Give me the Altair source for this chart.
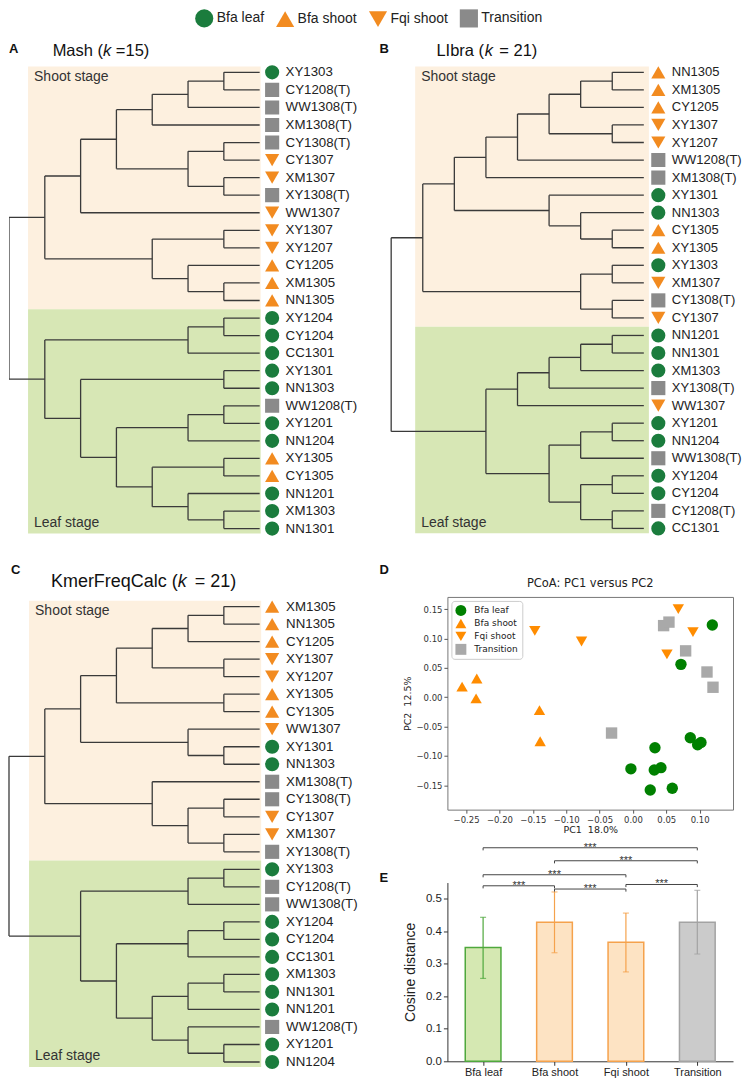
import altair as alt
import pandas as pd

# ---------------- categories & styles ----------------
GROUPS = ["Bfa leaf", "Bfa shoot", "Fqi shoot", "Transition"]
SHAPES = ["circle", "triangle-up", "triangle-down", "square"]
TREE_COLORS = ["#1b7c3d", "#f28b20", "#f28b20", "#8a8a8a"]
PCOA_COLORS = ["#008000", "#ff8c00", "#ff8c00", "#a9a9a9"]
BAR_FILL = ["#d5e8b2", "#fde3c3", "#fde3c3", "#cbcbcb"]
BAR_LINE = ["#4fa83d", "#f5a24c", "#f5a24c", "#a3a3a3"]

# ---------------- samples ----------------
BFA_LEAF = ["XY1303", "XY1204", "CY1204", "CC1301", "XY1301", "NN1303",
            "XY1201", "NN1204", "NN1201", "XM1303", "NN1301"]
BFA_SHOOT = ["CY1205", "XM1305", "NN1305", "XY1305", "CY1305"]
FQI_SHOOT = ["CY1307", "XM1307", "WW1307", "XY1307", "XY1207"]
TRANSITION = ["CY1208(T)", "WW1308(T)", "XM1308(T)", "CY1308(T)", "XY1308(T)", "WW1208(T)"]

# ---------------- tree topologies (shoot clade, leaf clade) ----------------
TREE_A_SHOOT = "((((((XY1303,CY1208_T),WW1308_T),XM1308_T),((CY1308_T,CY1307),(XM1307,XY1308_T))),WW1307),((XY1307,XY1207),(CY1205,(XM1305,NN1305))))"
TREE_A_LEAF = "(((XY1204,CY1204),CC1301),((XY1301,NN1303),(((WW1208_T,XY1201),NN1204),((XY1305,CY1305),(NN1201,(XM1303,NN1301))))))"
TREE_B_SHOOT = "(((((((NN1305,XM1305),CY1205),(XY1307,XY1207)),WW1208_T),XM1308_T),(XY1301,(NN1303,(CY1305,XY1305)))),((XY1303,XM1307),(CY1308_T,CY1307)))"
TREE_B_LEAF = "(((((NN1201,NN1301),XM1303),XY1308_T),WW1307),(((XY1201,NN1204),WW1308_T),((XY1204,CY1204),(CY1208_T,CC1301))))"
TREE_C_SHOOT = "((((((XM1305,NN1305),CY1205),(XY1307,XY1207)),(XY1305,CY1305)),(WW1307,(XY1301,NN1303))),(XM1308_T,((CY1308_T,CY1307),(XM1307,XY1308_T))))"
TREE_C_LEAF = "(((XY1303,CY1208_T),WW1308_T),(((XY1204,CY1204),CC1301),(((XM1303,NN1301),NN1201),(WW1208_T,(XY1201,NN1204)))))"

# ---------------- PCoA coordinates ----------------
PC_BFA_LEAF_X = [0.119, 0.072, 0.086, 0.097, 0.102, 0.033, -0.003, 0.032, 0.042, 0.026, 0.059]
PC_BFA_LEAF_Y = [0.123, 0.056, -0.069, -0.081, -0.077, -0.086, -0.122, -0.124, -0.120, -0.158, -0.155]
PC_BFA_SHOOT_X = [-0.256, -0.234, -0.235, -0.140, -0.139]
PC_BFA_SHOOT_Y = [0.018, 0.032, -0.002, -0.022, -0.075]
PC_FQI_SHOOT_X = [-0.147, -0.077, 0.068, 0.090, 0.051]
PC_FQI_SHOOT_Y = [0.113, 0.095, 0.150, 0.111, 0.073]
PC_TRANS_X = [0.046, 0.054, 0.079, 0.111, 0.120, -0.032]
PC_TRANS_Y = [0.122, 0.128, 0.079, 0.043, 0.017, -0.061]

# ---------------- cosine distance bars ----------------
DIST_MEAN = [0.350, 0.428, 0.366, 0.428]
DIST_LO = [0.255, 0.334, 0.275, 0.330]
DIST_HI = [0.443, 0.521, 0.456, 0.526]
SIG_FROM = ["Bfa leaf", "Bfa shoot", "Bfa leaf", "Bfa leaf", "Bfa shoot", "Fqi shoot"]
SIG_TO = ["Transition", "Transition", "Fqi shoot", "Bfa shoot", "Fqi shoot", "Transition"]
SIG_LEVEL = [0.657, 0.617, 0.574, 0.540, 0.530, 0.544]
SIG_LABEL = ["***", "***", "***", "***", "***", "***"]

GROUP_OF = {}
for g, lst in zip(GROUPS, [BFA_LEAF, BFA_SHOOT, FQI_SHOOT, TRANSITION]):
    for s in lst:
        GROUP_OF[s] = g

FONT = "Liberation Sans"
ONE = pd.DataFrame({"_": [0]})


def parse_newick(s):
    pos = 0

    def node():
        nonlocal pos
        if s[pos] == "(":
            pos += 1
            kids = [node()]
            while s[pos] == ",":
                pos += 1
                kids.append(node())
            pos += 1
            return kids
        start = pos
        while s[pos] not in ",)":
            pos += 1
        return s[start:pos]

    return node()


def count_leaves(n):
    return 1 if isinstance(n, str) else sum(count_leaves(c) for c in n)


def tree_frames(shoot_str, leaf_str):
    shoot = parse_newick(shoot_str)
    root = [shoot, parse_newick(leaf_str)]
    leaves, nodes = [], []

    def rec(n):
        if isinstance(n, str):
            leaves.append(n)
            return (len(leaves) - 1, 0)
        res = [rec(c) for c in n]
        h = max(r[1] for r in res) + 1
        y = (res[0][0] + res[-1][0]) / 2
        nodes.append((y, h, res))
        return (y, h)

    rec(root)
    H = max(n[1] for n in nodes)
    segs = []
    for y, h, res in nodes:
        segs.append(dict(x=1 - h / H, x2=1 - h / H, y=res[0][0], y2=res[-1][0]))
        for cy, ch in res:
            segs.append(dict(x=1 - h / H, x2=1 - ch / H, y=cy, y2=cy))
    names = [l.replace("_T", "(T)") for l in leaves]
    leaf_df = pd.DataFrame({"idx": list(range(len(names))), "name": names,
                            "group": [GROUP_OF[n] for n in names], "pos": 1.0})
    return pd.DataFrame(segs), leaf_df, count_leaves(shoot)


def txt(s, x, y, size, weight="normal", style="normal", font=FONT, align="left", color="#111", clip=False):
    return alt.Chart(ONE).mark_text(
        text=s, align=align, baseline="middle", fontSize=size, fontWeight=weight,
        fontStyle=style, font=font, color=color, clip=clip
    ).encode(x=alt.value(x), y=alt.value(y))


def tree_panel(shoot_str, leaf_str, texts, xr, yr, bg_x, marker_dx, label_dx, legend, W, H,
               label_size=13.3, clip=True):
    segs, leaves, n_shoot = tree_frames(shoot_str, leaf_str)
    n = len(leaves)
    xs = alt.Scale(domain=[0, 1], range=xr, nice=False, zero=False)
    ys = alt.Scale(domain=[0, n - 1], range=yr, nice=False, zero=False)

    def X(f):
        return alt.X(f, type="quantitative", scale=xs, axis=None)

    def Y(f):
        return alt.Y(f, type="quantitative", scale=ys, axis=None)

    stages = pd.DataFrame({
        "stage": ["Shoot stage", "Leaf stage"],
        "x": [bg_x[0], bg_x[0]], "x2": [bg_x[1], bg_x[1]],
        "y": [-0.33, n_shoot - 0.5], "y2": [n_shoot - 0.5, n - 1 + 0.28],
    })
    bg = alt.Chart(stages).mark_rect(clip=clip).encode(
        x=X("x"), x2="x2", y=Y("y"), y2="y2",
        fill=alt.Fill("stage:N", scale=alt.Scale(domain=["Shoot stage", "Leaf stage"],
                                                 range=["#fdf0df", "#d7e7b5"]), legend=None),
    )
    shoot_txt = alt.Chart(stages.iloc[[0]]).mark_text(
        align="left", baseline="middle", dx=6, dy=10, fontSize=14, font=FONT, color="#333", clip=clip
    ).encode(x=X("x"), y=Y("y"), text="stage")
    leaf_txt = alt.Chart(stages.iloc[[1]]).mark_text(
        align="left", baseline="middle", dx=6, dy=-10.5, fontSize=14, font=FONT, color="#333", clip=clip
    ).encode(x=X("x"), y=Y("y2"), text="stage")
    rules = alt.Chart(segs).mark_rule(color="#3a3a3a", strokeWidth=1.3, clip=clip).encode(
        x=X("x"), x2="x2", y=Y("y"), y2="y2")
    markers = alt.Chart(leaves).mark_point(filled=True, size=200, opacity=1, clip=clip).encode(
        x=X("pos"), y=Y("idx"), xOffset=alt.value(marker_dx),
        color=alt.Color("group:N", scale=alt.Scale(domain=GROUPS, range=TREE_COLORS), legend=legend),
        shape=alt.Shape("group:N", scale=alt.Scale(domain=GROUPS, range=SHAPES), legend=legend),
    )
    labels = alt.Chart(leaves).mark_text(
        align="left", baseline="middle", dx=label_dx, fontSize=label_size, font=FONT, color="#222", clip=clip
    ).encode(x=X("pos"), y=Y("idx"), text="name")
    return alt.layer(bg, rules, shoot_txt, leaf_txt, markers, labels, *texts).properties(width=W, height=H)


top_legend = alt.Legend(
    orient="none", legendX=186, legendY=0, direction="horizontal", title=None, padding=0,
    labelFontSize=14, labelFont=FONT, labelColor="#222", symbolSize=330,
    symbolStrokeWidth=0, labelOffset=3, columnPadding=11, symbolOpacity=1,
)

panel_a = tree_panel(
    TREE_A_SHOOT, TREE_A_LEAF,
    [txt("A", 0, 40.7, 13, weight="bold", clip=True),
     txt("Mash (", 43.7, 42, 16.5, clip=True), txt("k", 94.1, 42, 16.5, style="italic", clip=True),
     txt("=15)", 107, 42, 16.5, clip=True)],
    xr=[0, 251], yr=[63.7, 520.6], bg_x=[0.076, 1.004], marker_dx=12.5, label_dx=26,
    legend=top_legend, W=367, H=556,
)
panel_b = tree_panel(
    TREE_B_SHOOT, TREE_B_LEAF,
    [txt("B", 4, 40, 13, weight="bold", clip=True),
     txt("LIbra (", 61, 42, 16.5, clip=True), txt("k", 109.5, 42, 16.5, style="italic", clip=True),
     txt("= 21)", 124, 42, 16.5, clip=True)],
    xr=[15.7, 268.7], yr=[63.7, 520.4], bg_x=[0.095, 1.02], marker_dx=14.5, label_dx=28,
    legend=None, W=367, H=556, label_size=13,
)
panel_c = tree_panel(
    TREE_C_SHOOT, TREE_C_LEAF,
    [txt("C", 2, -26.5, 13, weight="bold"),
     txt("KmerFreqCalc (", 42, -15.3, 18), txt("k", 169, -15.3, 18, style="italic"), txt("= 21)", 186, -15.3, 18)],
    xr=[0, 251], yr=[9.7, 465.7], bg_x=[0.08, 1.006], marker_dx=12.5, label_dx=26.5,
    legend=None, W=367, H=471, clip=False,
)

# ---------------- D: PCoA ----------------
pcoa = pd.concat([
    pd.DataFrame({"x": PC_BFA_LEAF_X, "y": PC_BFA_LEAF_Y, "group": "Bfa leaf"}),
    pd.DataFrame({"x": PC_BFA_SHOOT_X, "y": PC_BFA_SHOOT_Y, "group": "Bfa shoot"}),
    pd.DataFrame({"x": PC_FQI_SHOOT_X, "y": PC_FQI_SHOOT_Y, "group": "Fqi shoot"}),
    pd.DataFrame({"x": PC_TRANS_X, "y": PC_TRANS_Y, "group": "Transition"}),
], ignore_index=True)

d_legend = alt.Legend(
    orient="top-left", title=None, offset=4, padding=4, strokeColor="#cccccc", fillColor="white",
    cornerRadius=3, labelFont="DejaVu Sans", labelFontSize=9, labelColor="#222",
    symbolSize=120, symbolStrokeWidth=0, rowPadding=2, labelOffset=8, symbolOpacity=1,
)
mpl_axis = dict(labelFont="DejaVu Sans", labelFontSize=8.5, labelColor="#333", tickColor="#555",
                tickSize=3.5, domain=False, grid=False, labelPadding=2,
                titleFont="DejaVu Sans", titleFontSize=9.5, titleFontWeight="normal", titleColor="#222")
scatter = alt.Chart(pcoa).mark_point(filled=True, size=130, opacity=1).encode(
    x=alt.X("x:Q", scale=alt.Scale(domain=[-0.278, 0.150], nice=False, zero=False),
            axis=alt.Axis(values=[-0.25, -0.2, -0.15, -0.1, -0.05, 0.0, 0.05, 0.1], format=".2f",
                          title="PC1\u00a0\u00a018.0%", titlePadding=1, **mpl_axis)),
    y=alt.Y("y:Q", scale=alt.Scale(domain=[-0.1915, 0.1709], nice=False, zero=False),
            axis=alt.Axis(values=[-0.15, -0.1, -0.05, 0.0, 0.05, 0.1, 0.15], format=".2f",
                          title="PC2\u00a0\u00a012.5%", titlePadding=3, **mpl_axis)),
    color=alt.Color("group:N", scale=alt.Scale(domain=GROUPS, range=PCOA_COLORS), legend=d_legend),
    shape=alt.Shape("group:N", scale=alt.Scale(domain=GROUPS, range=SHAPES), legend=d_legend),
)
panel_d = alt.layer(
    scatter,
    txt("D", -68, -26.5, 13, weight="bold"),
    txt("PCoA: PC1 versus PC2", 143, -13, 11.5, font="DejaVu Sans", align="center", color="#222"),
).properties(width=286, height=213, view=alt.ViewBackground(stroke="#777", strokeWidth=1))

# ---------------- E: cosine distance ----------------
ebar = pd.DataFrame({"group": GROUPS, "i": list(range(len(GROUPS))),
                     "mean": DIST_MEAN, "lo": DIST_LO, "hi": DIST_HI})
ebar["left"] = ebar["i"] - 0.25
ebar["right"] = ebar["i"] + 0.25
idx_of = {g: i for i, g in enumerate(GROUPS)}
sig = pd.DataFrame({"a": [idx_of[g] for g in SIG_FROM], "b": [idx_of[g] for g in SIG_TO],
                    "level": SIG_LEVEL, "label": SIG_LABEL})
sig["mid"] = (sig["a"] + sig["b"]) / 2
sig["drop"] = sig["level"] - 0.008
sig_ends = pd.concat([sig[["a", "level", "drop"]].rename(columns={"a": "e"}),
                      sig[["b", "level", "drop"]].rename(columns={"b": "e"})], ignore_index=True)

ex_scale = alt.Scale(domain=[-0.5, 3.5], nice=False, zero=False)
ey_scale = alt.Scale(domain=[0, 0.55], nice=False, zero=False)
label_expr = "[" + ",".join("'" + g + "'" for g in GROUPS) + "][datum.value]"
ex_axis = alt.Axis(values=list(range(len(GROUPS))), labelExpr=label_expr, title=None, grid=False,
                   labelFont=FONT, labelFontSize=11, labelColor="#222", tickColor="#333", tickSize=4,
                   domainColor="#333", labelPadding=1, labelAngle=0)
ey_axis = alt.Axis(values=[0, 0.1, 0.2, 0.3, 0.4, 0.5], format=".1f", title="Cosine distance", grid=False,
                   labelFont=FONT, labelFontSize=11.5, labelColor="#222", tickColor="#333", tickSize=4,
                   domainColor="#333", titleFont=FONT, titleFontSize=14, titleFontWeight="normal",
                   titleColor="#222", titlePadding=8)


def EX(f):
    return alt.X(f, type="quantitative", scale=ex_scale, axis=ex_axis)


def EY(f):
    return alt.Y(f, type="quantitative", scale=ey_scale, axis=ey_axis)


line_scale = alt.Scale(domain=GROUPS, range=BAR_LINE)
bars = alt.Chart(ebar).mark_rect(strokeWidth=1.5).encode(
    x=EX("left"), x2="right", y=EY("mean"), y2=alt.datum(0),
    fill=alt.Fill("group:N", scale=alt.Scale(domain=GROUPS, range=BAR_FILL), legend=None),
    stroke=alt.Stroke("group:N", scale=line_scale, legend=None),
)
err = alt.Chart(ebar).mark_rule(strokeWidth=1.2).encode(
    x=EX("i"), y=EY("lo"), y2="hi", stroke=alt.Stroke("group:N", scale=line_scale, legend=None))
cap_lo = alt.Chart(ebar).mark_tick(orient="horizontal", size=6, thickness=1.2).encode(
    x=EX("i"), y=EY("lo"), color=alt.Color("group:N", scale=line_scale, legend=None))
cap_hi = alt.Chart(ebar).mark_tick(orient="horizontal", size=6, thickness=1.2).encode(
    x=EX("i"), y=EY("hi"), color=alt.Color("group:N", scale=line_scale, legend=None))
br_h = alt.Chart(sig).mark_rule(color="#444", strokeWidth=1).encode(x=EX("a"), x2="b", y=EY("level"))
br_v = alt.Chart(sig_ends).mark_rule(color="#444", strokeWidth=1).encode(x=EX("e"), y=EY("level"), y2="drop")
stars = alt.Chart(sig).mark_text(fontSize=11, baseline="alphabetic", dy=3, color="#333", font=FONT).encode(
    x=EX("mid"), y=EY("level"), text="label")
panel_e = alt.layer(bars, err, cap_lo, cap_hi, br_h, br_v, stars, txt("E", -68, -5, 13, weight="bold")).properties(
    width=286, height=179)

IND = dict(color="independent", shape="independent", fill="independent", stroke="independent")

row1 = alt.hconcat(panel_a, panel_b, spacing=0, bounds="flush").resolve_scale(**IND)
right_col = alt.vconcat(panel_d, panel_e, spacing=73, bounds="flush").resolve_scale(**IND)
row2 = alt.hconcat(panel_c, right_col, spacing=3).resolve_scale(**IND)

chart = alt.vconcat(row1, row2, spacing=0).resolve_scale(**IND).properties(
    padding={"left": 0, "top": 0, "right": 0, "bottom": 0},
    autosize=alt.AutoSizeParams(type="pad"),
).configure(font=FONT).configure_view(stroke="transparent", strokeWidth=0)

chart.save("out.html", embed_options={"renderer": "svg", "actions": False})
